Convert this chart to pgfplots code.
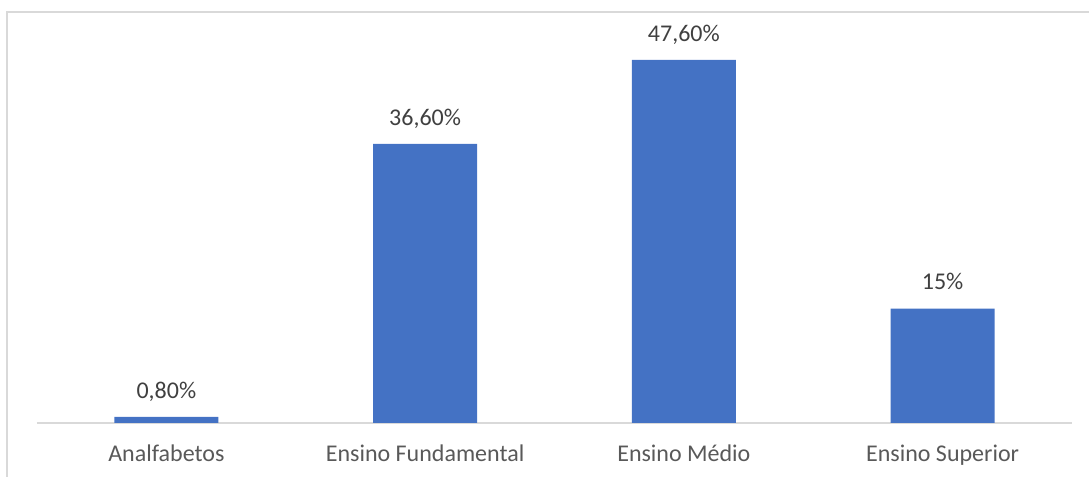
\documentclass[border=0pt]{standalone}
\usepackage{pgfplots}
\pgfplotsset{compat=1.18}
\usepackage{fontspec}
\setmainfont{Carlito}
\definecolor{barblue}{HTML}{4472C4}
\definecolor{axgray}{HTML}{D9D9D9}
\definecolor{lblgray}{HTML}{595959}
\definecolor{datgray}{HTML}{404040}
\begin{document}
\begin{tikzpicture}
\path[use as bounding box] (-18.5pt,-27pt) rectangle (526pt,211.5pt);
\draw[axgray, line width=0.75pt] (-15pt,-27pt) -- (-15pt,205.5pt) -- (526pt,205.5pt);
\begin{axis}[
  at={(0pt,0pt)}, anchor=south west,
  scale only axis,
  width=517.5pt, height=190.75pt,
  xmin=-0.5, xmax=3.5, ymin=0, ymax=50,
  axis y line=none,
  axis x line*=bottom,
  x axis line style={axgray, line width=0.75pt, -},
  xtick={0,1,2,3},
  xticklabels={Analfabetos, Ensino Fundamental, Ensino Médio, Ensino Superior},
  major tick length=0pt,
  xticklabel style={anchor=base, yshift=-19.35pt, font=\fontsize{12}{14}\selectfont, text=lblgray},
  ybar, bar width=52pt,
  nodes near coords,
  point meta=explicit symbolic,
  every node near coord/.append style={anchor=base, yshift=9.35pt, font=\fontsize{12}{14}\selectfont, text=datgray},
  clip=false,
]
\addplot[fill=barblue, draw=none] coordinates {
  (0,0.8) [0,80\%]
  (1,36.6) [36,60\%]
  (2,47.6) [47,60\%]
  (3,15) [15\%]
};
\end{axis}
\end{tikzpicture}
\end{document}
